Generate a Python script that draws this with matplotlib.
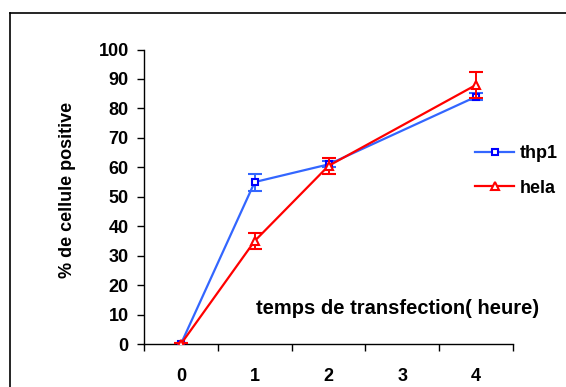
import matplotlib
matplotlib.use("Agg")
import matplotlib.pyplot as plt
from matplotlib.lines import Line2D
import numpy as np

categories = ["0", "1", "2", "3", "4"]
hours = [0, 1, 2, 4]
thp1 = [0, 55, 61, 84]
thp1_err = [0.5, 2.9, 1.0, 1.2]
hela = [0, 35, 60.5, 88]
hela_err = [0.5, 2.7, 2.8, 4.4]
yticks = list(range(0, 101, 10))

plt.rcParams['font.family'] = ['Liberation Sans', 'DejaVu Sans']
plt.rcParams['font.weight'] = 'bold'

fig = plt.figure(figsize=(5.66, 3.87), dpi=100)
ax = fig.add_axes([0.2544, 0.111, 0.652, 0.761])

blue_line = '#3366FF'
blue_mk = '#0000FF'
red = '#FF0000'

ax.errorbar(hours, thp1, yerr=thp1_err, color=blue_line, lw=1.6,
            marker='s', ms=5, mfc='white', mec=blue_mk, mew=1.5,
            ecolor=blue_line, elinewidth=1.4, capsize=5, capthick=1.4, zorder=3)
ax.errorbar(hours, hela, yerr=hela_err, color=red, lw=1.6,
            marker='^', ms=6, mfc='white', mec=red, mew=1.5,
            ecolor=red, elinewidth=1.4, capsize=5, capthick=1.4, zorder=4)

ax.set_xlim(-0.5, 4.5)
ax.set_ylim(0, 100)
ax.set_yticks(yticks)
ax.set_yticklabels([str(v) for v in yticks])
ax.set_xticks(range(len(categories)))
ax.set_xticklabels(categories)
ax.set_xticks(np.arange(-0.5, 5.0, 1.0), minor=True)
ax.tick_params(axis='x', which='major', length=0, pad=17, labelsize=13)
ax.tick_params(axis='x', which='minor', length=5, width=1, direction='out')
ax.tick_params(axis='y', which='major', length=5, width=1, direction='out', labelsize=13, pad=6)
for s in ['top', 'right']:
    ax.spines[s].set_visible(False)
for s in ['left', 'bottom']:
    ax.spines[s].set_linewidth(1.0)

ax.text(0.688, 0.122, "temps de transfection( heure)", transform=ax.transAxes,
        ha='center', va='center', fontsize=14.5, fontweight='bold')
fig.text(0.12, 0.51, "% de cellule positive", rotation=90, ha='center', va='center',
         fontsize=13, fontweight='bold')

handles = [Line2D([], [], color=blue_line, lw=1.6, marker='s', ms=5, mfc='white', mec=blue_mk, mew=1.5),
           Line2D([], [], color=red, lw=1.6, marker='^', ms=6, mfc='white', mec=red, mew=1.5)]
fig.legend(handles, ['thp1', 'hela'], loc='center left', bbox_to_anchor=(0.81, 0.558),
           frameon=False, fontsize=13, handlelength=2.2, labelspacing=0.95, handletextpad=0.3)

# outer frame (top and left visible)
fig.add_artist(Line2D([0.0177, 1.0], [1 - 13/387, 1 - 13/387], color='black', lw=1.2, transform=fig.transFigure))
fig.add_artist(Line2D([0.0177, 0.0177], [0.0, 1 - 13/387], color='black', lw=1.2, transform=fig.transFigure))

fig.savefig("out.png", dpi=100)
